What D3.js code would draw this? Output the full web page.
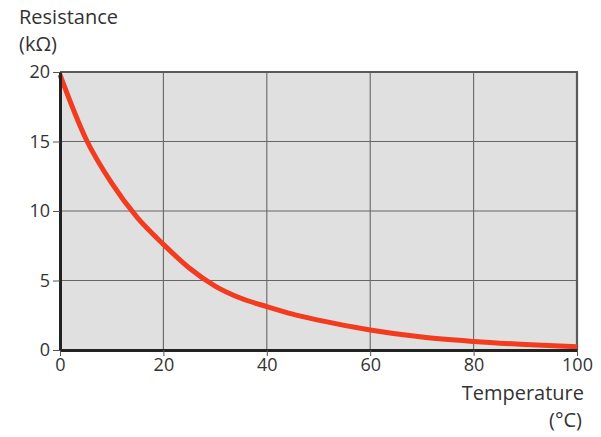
<!DOCTYPE html>
<html>
<head>
<meta charset="utf-8">
<script src="https://cdn.jsdelivr.net/npm/d3@7"></script>
<style>
  body { margin: 0; background: #fff; }
  text { font-family: "Open Sans", sans-serif; fill: #333; }
</style>
</head>
<body>
<div id="chart-area"></div>
<script>
var temperatures = [0, 5, 10, 15, 20, 25, 30, 35, 40, 45, 50, 60, 70, 80, 90, 100];
var resistance = [19.8, 15.2, 12.0, 9.5, 7.6, 5.9, 4.6, 3.72, 3.12, 2.58, 2.15, 1.44, 0.93, 0.62, 0.4, 0.24];
var xTicks = [0, 20, 40, 60, 80, 100];
var yTicks = [0, 5, 10, 15, 20];

var data = temperatures.map((t, i) => ({ t: t, r: resistance[i] }));

var svg = d3.select("#chart-area")
  .append("svg")
  .attr("width", 601)
  .attr("height", 437);

var margin = { top: 72, left: 60 };
var width = 517;
var height = 278;

var g = svg.append("g")
  .attr("transform", "translate(" + margin.left + "," + margin.top + ")");

var x = d3.scaleLinear().domain([0, 100]).range([0, width]);
var y = d3.scaleLinear().domain([0, 20]).range([height, 0]);

g.append("rect")
  .attr("width", width)
  .attr("height", height)
  .attr("fill", "#e0e0e0");

// grid
g.selectAll(".vgrid")
  .data(xTicks.slice(1, -1))
  .enter().append("line")
  .attr("x1", d => x(d)).attr("x2", d => x(d))
  .attr("y1", 0).attr("y2", height)
  .attr("stroke", "#666")
  .attr("stroke-width", 1.1);

g.selectAll(".hgrid")
  .data(yTicks.slice(1, -1))
  .enter().append("line")
  .attr("x1", 0).attr("x2", width)
  .attr("y1", d => y(d)).attr("y2", d => y(d))
  .attr("stroke", "#666")
  .attr("stroke-width", 1.1);

// top and right frame
g.append("path")
  .attr("d", "M0,0H" + width + "V" + height)
  .attr("fill", "none")
  .attr("stroke", "#5a5a5a")
  .attr("stroke-width", 2.2);

var line = d3.line()
  .x(d => x(d.t))
  .y(d => y(d.r))
  .curve(d3.curveMonotoneX);

g.append("path")
  .datum(data)
  .attr("d", line)
  .attr("fill", "none")
  .attr("stroke", "#f23b1f")
  .attr("stroke-width", 5);

var xAxisCall = d3.axisBottom(x).tickValues(xTicks).tickSize(6).tickPadding(2).tickSizeOuter(0);
var xAxis = g.append("g")
  .attr("transform", "translate(0," + height + ")")
  .call(xAxisCall);
xAxis.selectAll("text")
  .attr("font-size", "18px")
  .attr("font-family", "Open Sans, sans-serif")
  .attr("fill", "#333");

var yAxisCall = d3.axisLeft(y).tickValues(yTicks).tickSize(7).tickPadding(3).tickSizeOuter(0);
var yAxis = g.append("g")
  .call(yAxisCall);
yAxis.selectAll("text")
  .attr("font-size", "18px")
  .attr("font-family", "Open Sans, sans-serif")
  .attr("fill", "#333");

g.selectAll(".tick line").attr("stroke", "#555").attr("stroke-width", 1);
xAxis.select(".domain").attr("stroke", "#222").attr("stroke-width", 3);
yAxis.select(".domain").attr("stroke", "#222").attr("stroke-width", 3);

svg.append("text")
  .attr("x", 19).attr("y", 24)
  .attr("font-size", "20px")
  .text("Resistance");
svg.append("text")
  .attr("x", 19).attr("y", 51)
  .attr("font-size", "20px")
  .text("(kΩ)");

svg.append("text")
  .attr("x", 584).attr("y", 400)
  .attr("text-anchor", "end")
  .attr("font-size", "20px")
  .text("Temperature");
svg.append("text")
  .attr("x", 582).attr("y", 427)
  .attr("text-anchor", "end")
  .attr("font-size", "20px")
  .text("(°C)");
</script>
</body>
</html>
